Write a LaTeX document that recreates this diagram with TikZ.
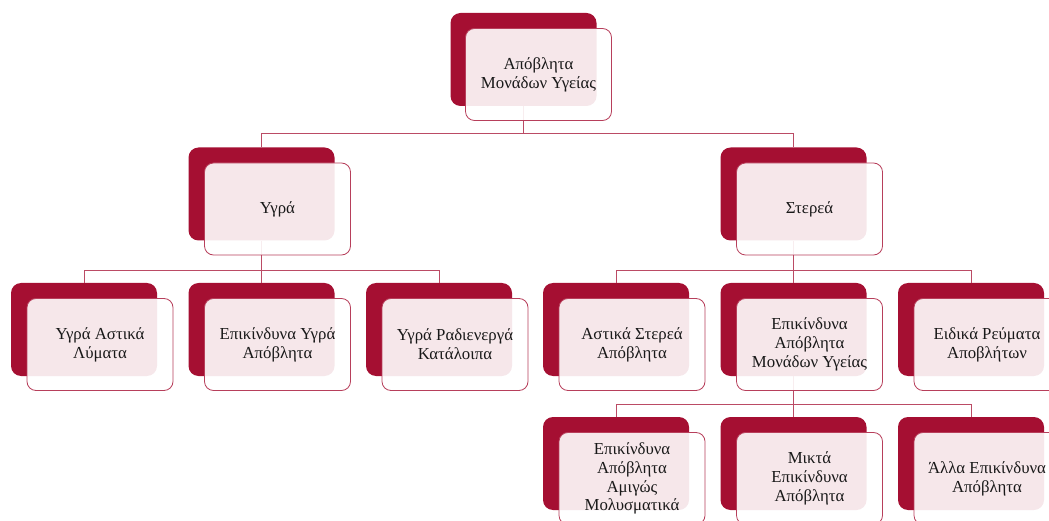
\documentclass[tikz,border=0pt]{standalone}
\usepackage{fontspec}
\setmainfont{Liberation Serif}
\definecolor{wasteRed}{HTML}{A50F32}

\begin{document}
\begin{tikzpicture}[x=1pt,y=-1pt,
    backbox/.style={fill=wasteRed, rounded corners=10pt, minimum width=146pt, minimum height=93pt, inner sep=0pt},
    frontbox/.style={draw=wasteRed!80, line width=0.8pt, fill=white, fill opacity=0.9, text opacity=1,
      rounded corners=9pt, minimum width=146pt, minimum height=92pt, inner sep=2pt, align=center,
      font=\fontsize{16.8}{18.8}\selectfont, text=black!90},
    conn/.style={draw=wasteRed!75, line width=0.8pt}]
    \useasboundingbox (0,0) rectangle (1049,521);
    \clip (0,0) rectangle (1049,521);
    % back boxes
    \node[backbox] (b-root) at (523.5,59.5) {};
    \node[backbox] (b-liquid) at (261.5,194) {};
    \node[backbox] (b-solid) at (793.5,194) {};
    \node[backbox] (b-urban) at (84,329.5) {};
    \node[backbox] (b-hazliq) at (261.5,329.5) {};
    \node[backbox] (b-radio) at (439,329.5) {};
    \node[backbox] (b-urbsol) at (616,329.5) {};
    \node[backbox] (b-hcw) at (793.5,329.5) {};
    \node[backbox] (b-special) at (971,329.5) {};
    \node[backbox] (b-infect) at (616,463.5) {};
    \node[backbox] (b-mixed) at (793.5,463.5) {};
    \node[backbox] (b-other) at (971,463.5) {};
    %
    \foreach \c in {b-liquid,b-solid}
      \draw[conn] (b-root.south) -- ++(0,27) -| (\c.north);
    \foreach \c in {b-urban,b-hazliq,b-radio}
      \draw[conn] (b-liquid.south) -- ++(0,30) -| (\c.north);
    \foreach \c in {b-urbsol,b-hcw,b-special}
      \draw[conn] (b-solid.south) -- ++(0,30) -| (\c.north);
    \foreach \c in {b-infect,b-mixed,b-other}
      \draw[conn] (b-hcw.south) -- ++(0,28) -| (\c.north);
    % front boxes
    \node[frontbox] (f-root) at ([shift={(15,15)}]b-root) {Απόβλητα\\Μονάδων Υγείας};
    \node[frontbox] (f-liquid) at ([shift={(16,15)}]b-liquid) {Υγρά};
    \node[frontbox] (f-solid) at ([shift={(16,15)}]b-solid) {Στερεά};
    \node[frontbox] (f-urban) at ([shift={(16,15)}]b-urban) {Υγρά Αστικά\\Λύματα};
    \node[frontbox] (f-hazliq) at ([shift={(16,15)}]b-hazliq) {Επικίνδυνα Υγρά\\Απόβλητα};
    \node[frontbox] (f-radio) at ([shift={(16,15)}]b-radio) {Υγρά Ραδιενεργά\\Κατάλοιπα};
    \node[frontbox] (f-urbsol) at ([shift={(16,15)}]b-urbsol) {Αστικά Στερεά\\Απόβλητα};
    \node[frontbox] (f-hcw) at ([shift={(16,15)}]b-hcw) {Επικίνδυνα\\Απόβλητα\\Μονάδων Υγείας};
    \node[frontbox] (f-special) at ([shift={(16,15)}]b-special) {Ειδικά Ρεύματα\\Αποβλήτων};
    \node[frontbox] (f-infect) at ([shift={(16,15)}]b-infect) {Επικίνδυνα\\Απόβλητα\\Αμιγώς\\Μολυσματικά};
    \node[frontbox] (f-mixed) at ([shift={(16,15)}]b-mixed) {Μικτά\\Επικίνδυνα\\Απόβλητα};
    \node[frontbox] (f-other) at ([shift={(16,15)}]b-other) {Άλλα Επικίνδυνα\\Απόβλητα};
  \end{tikzpicture}
\end{document}
